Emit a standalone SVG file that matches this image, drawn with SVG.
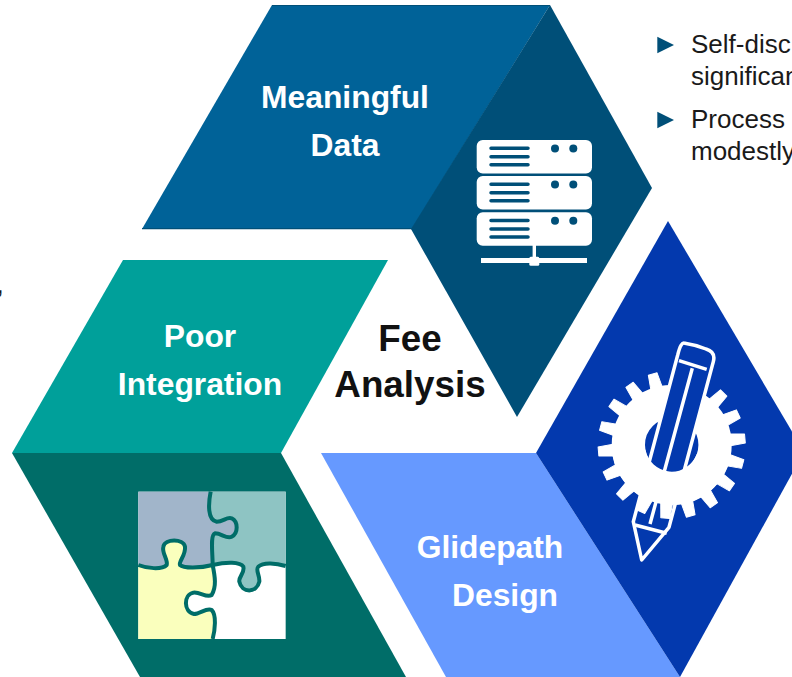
<svg xmlns="http://www.w3.org/2000/svg" xmlns:xlink="http://www.w3.org/1999/xlink" width="792" height="677" viewBox="0 0 792 677">
<style>
text{font-family:"Liberation Sans",Arial,sans-serif}
.h{font-size:31.8px;font-weight:bold;fill:#fff;text-anchor:middle}
.c{font-size:36.8px;font-weight:bold;fill:#111;text-anchor:middle}
.b{font-size:26px;fill:#1a1a1a}
.srv{fill:#fff}
.ln{stroke:#004f78;stroke-width:3.5;stroke-linecap:round}
.dot{fill:#004f78}
.pz{stroke:#006d68;stroke-width:12;fill:none;stroke-linecap:butt}
.pen{fill:none;stroke:#fff;stroke-width:3.5;stroke-linejoin:round}
</style>
<defs>
<polygon id="bullet" points="657.3,36.7 674,44.9 657.3,53.3" fill="#004f78"/>
<polygon id="tooth" points="57,-6 73.5,-4.5 73.5,4.5 57,6" fill="#fff" stroke="#fff" stroke-linejoin="round"/>
<g id="unit"><rect x="476.7" y="140" width="115.3" height="33.4" rx="6" class="srv"/>
<path class="ln" d="M491,148.3H528M491,156.7H528M491,164.7H528"/>
<circle class="dot" cx="555" cy="148.5" r="4"/><circle class="dot" cx="573.3" cy="148.5" r="4"/></g>
</defs>
<g id="meaningful-data">
<polygon points="272,5 550,5 412,229 142,229" fill="#006298"/>
<polygon points="550,5 652,188 517,417 411,229" fill="#004f78"/>
<path d="M272,5.5H550M142,228.7H412" stroke="#004f78" stroke-width="1.2" fill="none"/>
<text class="h" x="345" y="108">Meaningful</text>
<text class="h" x="345" y="156">Data</text>
<use xlink:href="#unit"/><use xlink:href="#unit" y="36"/><use xlink:href="#unit" y="72.3"/>
<rect x="532.6" y="245" width="3.4" height="14" fill="#fff"/>
<rect x="481" y="258" width="106" height="5" fill="#fff"/>
<rect x="529.3" y="256.7" width="10" height="9" rx="1.5" fill="#fff"/>
</g>
<g id="poor-integration">
<polygon points="123,260 388,260 281,453 12,453" fill="#00a09a"/>
<polygon points="12,453 281,453 406,677 140,677" fill="#006d68"/>
<text class="h" x="200" y="347">Poor</text>
<text class="h" x="200" y="395">Integration</text>
<g transform="translate(120,470) scale(.33333)">
<rect x="55" y="65" width="442" height="442" fill="#fff"/>
<path fill="#a1b5ca" d="M55,65H272C265,100 262,150 290,155C310,155 320,140 335,145C355,155 355,190 335,200C320,208 305,190 285,190C270,195 278,250 278,285C240,295 190,295 180,285C175,275 198,255 195,230C190,205 135,205 130,230C125,250 145,270 140,285C125,300 80,295 55,285Z"/>
<path fill="#8ec4c3" d="M278,285C320,275 360,275 370,290C375,310 355,320 358,335C365,370 410,370 418,335C420,315 405,300 415,290C430,275 470,280 497,288V65H272C265,100 262,150 290,155C310,155 320,140 335,145C355,155 355,190 335,200C320,208 305,190 285,190C270,195 278,250 278,285Z"/>
<path fill="#faffbd" d="M55,285C80,295 125,300 140,285C145,270 125,250 130,230C135,205 190,205 195,230C198,255 175,275 180,285C190,295 240,295 278,285C285,320 290,350 275,375C260,385 240,365 220,368C190,375 190,425 222,432C240,432 260,412 275,420C290,435 285,480 278,507H55Z"/>
<path class="pz" d="M272,65C265,100 262,150 290,155C310,155 320,140 335,145C355,155 355,190 335,200C320,208 305,190 285,190C270,195 278,250 278,285"/>
<path class="pz" d="M55,285C80,295 125,300 140,285C145,270 125,250 130,230C135,205 190,205 195,230C198,255 175,275 180,285C190,295 240,295 278,285"/>
<path class="pz" d="M278,285C320,275 360,275 370,290C375,310 355,320 358,335C365,370 410,370 418,335C420,315 405,300 415,290C430,275 470,280 497,288"/>
<path class="pz" d="M278,285C285,320 290,350 275,375C260,385 240,365 220,368C190,375 190,425 222,432C240,432 260,412 275,420C290,435 285,480 278,507"/>
</g>
</g>
<g id="glidepath-design">
<polygon points="321,453 536,453 680,677 446,677" fill="#6699ff"/>
<polygon points="668,221 804,452 680,677 536,453" fill="#0339ae"/>
<text class="h" x="490" y="558">Glidepath</text>
<text class="h" x="505" y="606">Design</text>
<g transform="translate(671.7,445)">
<circle r="43.35" fill="none" stroke="#fff" stroke-width="33.3"/>
<use xlink:href="#tooth" transform="rotate(-5)"/><use xlink:href="#tooth" transform="rotate(15)"/><use xlink:href="#tooth" transform="rotate(35)"/><use xlink:href="#tooth" transform="rotate(55)"/><use xlink:href="#tooth" transform="rotate(135)"/><use xlink:href="#tooth" transform="rotate(155)"/><use xlink:href="#tooth" transform="rotate(175)"/><use xlink:href="#tooth" transform="rotate(195)"/><use xlink:href="#tooth" transform="rotate(215)"/><use xlink:href="#tooth" transform="rotate(235)"/><use xlink:href="#tooth" transform="rotate(255)"/><use xlink:href="#tooth" transform="rotate(275)"/><use xlink:href="#tooth" transform="rotate(295)"/><use xlink:href="#tooth" transform="rotate(315)"/><use xlink:href="#tooth" transform="rotate(335)"/>
</g>
<path class="pen" style="fill:#0339ae" d="M633.3,521.7L677.7,355Q681,341 685,343.3Q696,345 706,349Q716,352 713.3,361.7L669,527.3L641.7,560Z"/>
<path class="pen" d="M635,525L666.7,533.3M679,360.7L706.7,369.3M692.3,368.3L650,524"/>
<g transform="translate(671.7,445)">
<path d="M40.7,14.8A43.35,43.35 0 0 1 -42.7,7.5" fill="none" stroke="#fff" stroke-width="33.3"/>
<use xlink:href="#tooth" transform="rotate(75)"/><use xlink:href="#tooth" transform="rotate(95)"/><use xlink:href="#tooth" transform="rotate(115)"/>
</g>
</g>
<g id="center-label">
<text class="c" x="410" y="351">Fee</text>
<text class="c" x="410" y="397">Analysis</text>
</g>
<g id="notes">
<use xlink:href="#bullet"/><use xlink:href="#bullet" y="75"/>
<text class="b" x="691" y="53">Self-disc</text>
<text class="b" x="691" y="85">significan</text>
<text class="b" x="691" y="128">Process</text>
<text class="b" x="691" y="160">modestly</text>
<text class="b" x="-3.5" y="293">,</text>
</g>
</svg>
